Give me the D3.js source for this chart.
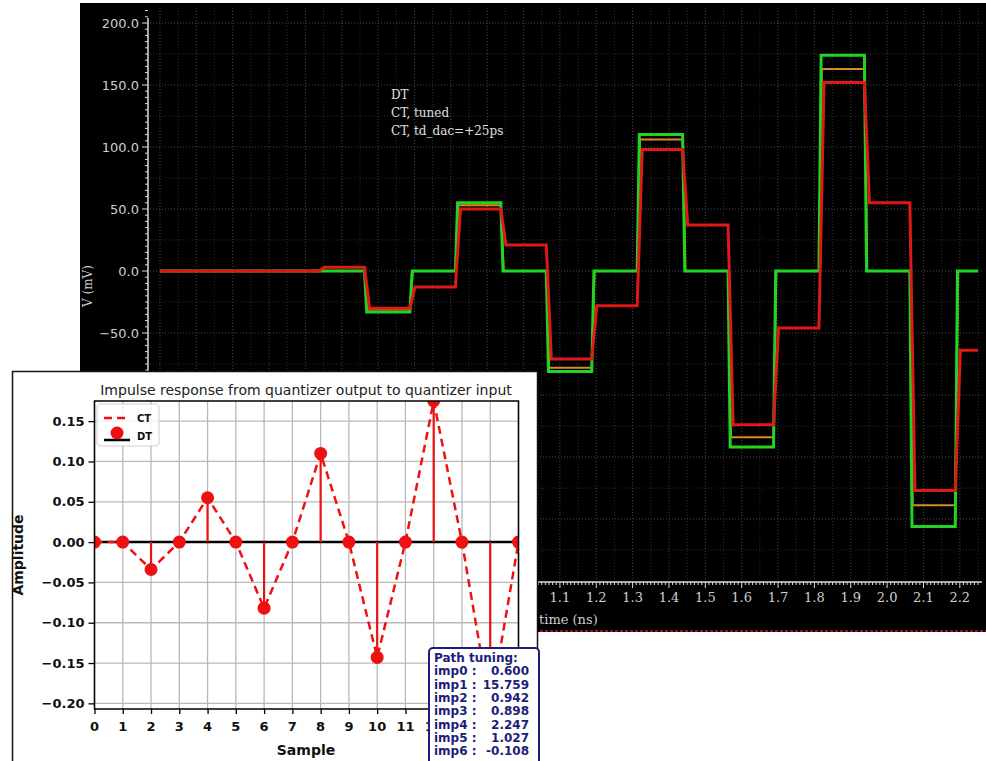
<!DOCTYPE html>
<html>
<head>
<meta charset="utf-8">
<script src="https://cdn.jsdelivr.net/npm/d3@7"></script>
<style>
  body { margin: 0; background: #fff; }
  svg { display: block; }
</style>
</head>
<body>
<div id="chart"></div>
<script>
// ---- waveform (background scope view) ----
const levelStart = [0, 0.4375, 0.5625, 0.6875, 0.8125, 0.9375, 1.0625, 1.1875, 1.3125, 1.4375, 1.5625, 1.6875, 1.8125, 1.9375, 2.0625, 2.1875];
const timeEnd = 2.25;
const dtLevels = [0, 0, -33, 0, 55, 0, -81, 0, 110, 0, -142, 0, 174, 0, -206, 0];
const ctTunedLevels = [0, 0, -31, 0, 53, 0, -78, 0, 106, 0, -134, 0, 163, 0, -189, 0];
const ctDelayLevels = [0, 3, -30, -13, 50, 21, -71, -28, 98, 37, -124, -46, 152, 55, -177, -64];
const legendNames = ["DT", "CT, tuned", "CT, td_dac=+25ps"];
// tick labels left uncovered by the inset
const scopeYLabels = [-50, 0, 50, 100, 150, 200];
const scopeXLabels = [1.1, 1.2, 1.3, 1.4, 1.5, 1.6, 1.7, 1.8, 1.9, 2.0, 2.1, 2.2];

// ---- impulse response (inset) ----
const samples = d3.range(0, 16);
const impulse = [0, 0, -0.034, 0, 0.055, 0, -0.082, 0, 0.110, 0, -0.143, 0, 0.175, 0, -0.205, 0];
const sampleLabels = d3.range(0, 13);
const tuningNames = ["imp0 :", "imp1 :", "imp2 :", "imp3 :", "imp4 :", "imp5 :", "imp6 :"];
const tuningValues = ["0.600", "15.759", "0.942", "0.898", "2.247", "1.027", "-0.108"];

const W = 986, H = 761;
const svg = d3.select("#chart").append("svg")
    .attr("width", W)
    .attr("height", H);

// ================= scope panel =================
svg.append("rect")
    .attr("x", 80).attr("y", 3)
    .attr("width", W - 80).attr("height", 629)
    .attr("fill", "#000");

const xS = d3.scaleLinear().domain([0, 2.25]).range([160, 978]);
const yS = d3.scaleLinear().domain([-200, 200]).range([519, 23]);
const plotTop = 8, plotBottom = 581, plotLeft = 150, plotRight = 982;

// grid - minor then major
const minorX = d3.range(0.05, 2.3, 0.1);
const majorX = d3.range(0, 2.3, 0.1);
const minorY = d3.range(-225, 226, 50);
const majorY = d3.range(-200, 201, 50);

svg.append("g").selectAll("line").data(minorX).join("line")
    .attr("x1", d => xS(d)).attr("x2", d => xS(d))
    .attr("y1", plotTop).attr("y2", plotBottom)
    .attr("stroke", "#2a2a2a").attr("stroke-dasharray", "1,2");
svg.append("g").selectAll("line").data(minorY).join("line")
    .attr("y1", d => yS(d)).attr("y2", d => yS(d))
    .attr("x1", plotLeft).attr("x2", plotRight)
    .attr("stroke", "#2a2a2a").attr("stroke-dasharray", "1,2");
svg.append("g").selectAll("line").data(majorX).join("line")
    .attr("x1", d => xS(d)).attr("x2", d => xS(d))
    .attr("y1", plotTop).attr("y2", plotBottom)
    .attr("stroke", "#4a4a4a").attr("stroke-dasharray", "1,2");
svg.append("g").selectAll("line").data(majorY).join("line")
    .attr("y1", d => yS(d)).attr("y2", d => yS(d))
    .attr("x1", plotLeft).attr("x2", plotRight)
    .attr("stroke", "#4a4a4a").attr("stroke-dasharray", "1,2");

// y ruler
const yAxis = svg.append("g").attr("transform", "translate(148,0)");
yAxis.append("line").attr("x1", 0).attr("x2", 0).attr("y1", plotTop + 10).attr("y2", plotBottom)
    .attr("stroke", "#ddd").attr("stroke-width", 1.5);
yAxis.selectAll(".mt").data(d3.range(-245, 211, 5)).join("line")
    .attr("x1", d => (d % 50 === 0 ? -6 : -3)).attr("x2", 0)
    .attr("y1", d => yS(d)).attr("y2", d => yS(d))
    .attr("stroke", "#ddd").attr("stroke-width", 1);
yAxis.selectAll("text").data(scopeYLabels).join("text")
    .attr("x", -9).attr("y", d => yS(d)).attr("dy", "0.35em")
    .attr("text-anchor", "end")
    .attr("fill", "#cfcfcf")
    .style("font", "13px 'DejaVu Sans'")
    .text(d => d3.format(".1f")(d));

svg.append("text")
    .attr("transform", "translate(92,286) rotate(-90)")
    .attr("text-anchor", "middle")
    .attr("fill", "#cfcfcf")
    .style("font", "12px 'DejaVu Serif'")
    .text("V (mV)");

// x ruler
const xAxis = svg.append("g").attr("transform", `translate(0,${plotBottom + 1})`);
xAxis.append("line").attr("x1", plotLeft).attr("x2", plotRight).attr("y1", 0).attr("y2", 0)
    .attr("stroke", "#ddd").attr("stroke-width", 1.5);
xAxis.selectAll(".mt").data(d3.range(0, 226, 1)).join("line")
    .attr("x1", d => xS(d / 100)).attr("x2", d => xS(d / 100))
    .attr("y1", 0).attr("y2", d => (d % 10 === 0 ? 6 : 3))
    .attr("stroke", "#ddd").attr("stroke-width", 1);
xAxis.selectAll("text").data(scopeXLabels).join("text")
    .attr("x", d => xS(d)).attr("y", 20)
    .attr("text-anchor", "middle")
    .attr("fill", "#cfcfcf")
    .style("font", "13px 'DejaVu Serif'")
    .text(d => d3.format(".1f")(d));
svg.append("text")
    .attr("x", 539).attr("y", 624)
    .attr("fill", "#cfcfcf")
    .style("font", "13px 'DejaVu Serif'")
    .text("time (ns)");

svg.append("line")
    .attr("x1", 80).attr("x2", W).attr("y1", 631).attr("y2", 631)
    .attr("stroke", "#c0202a").attr("stroke-width", 1.5).attr("stroke-dasharray", "3,2");

// step traces with a short edge ramp
function stepPoints(levels, rise) {
    const pts = [[0, levels[0]]];
    for (let i = 1; i < levels.length; i++) {
        pts.push([levelStart[i], levels[i - 1]]);
        pts.push([levelStart[i] + rise, levels[i]]);
    }
    pts.push([timeEnd, levels[levels.length - 1]]);
    return pts;
}
const traceLine = d3.line().x(d => xS(d[0])).y(d => yS(d[1]));

svg.append("path").datum(stepPoints(ctTunedLevels, 0.008))
    .attr("fill", "none").attr("stroke", "#d98a2a").attr("stroke-width", 2)
    .attr("d", traceLine);
svg.append("path").datum(stepPoints(dtLevels, 0.006))
    .attr("fill", "none").attr("stroke", "#22d422").attr("stroke-width", 3)
    .attr("d", traceLine);
svg.append("path").datum(stepPoints(ctDelayLevels, 0.014))
    .attr("fill", "none").attr("stroke", "#e01818").attr("stroke-width", 3)
    .attr("d", traceLine);

svg.append("g").selectAll("text").data(legendNames).join("text")
    .attr("x", 391).attr("y", (d, i) => 95 + i * 18).attr("dy", "0.35em")
    .attr("fill", "#e0e0e0")
    .style("font", "12px 'DejaVu Serif'")
    .text(d => d);

// ================= inset figure =================
svg.append("rect")
    .attr("x", 12.5).attr("y", 371.5)
    .attr("width", 525).attr("height", 400)
    .attr("fill", "#fff").attr("stroke", "#111").attr("stroke-width", 1.5);

const ix = d3.scaleLinear().domain([0, 15]).range([94.5, 518.5]);
const iy = d3.scaleLinear().domain([-0.207, 0.175]).range([709, 401]);
const yTicks = d3.range(-0.20, 0.151, 0.05);

svg.append("defs").append("clipPath").attr("id", "axclip")
    .append("rect").attr("x", ix(0)).attr("y", iy(0.175))
    .attr("width", ix(15) - ix(0)).attr("height", iy(-0.207) - iy(0.175));

// grid
svg.append("g").selectAll("line").data(samples).join("line")
    .attr("x1", d => ix(d)).attr("x2", d => ix(d))
    .attr("y1", iy(0.175)).attr("y2", iy(-0.207))
    .attr("stroke", "#b8b8b8").attr("stroke-width", 1.3);
svg.append("g").selectAll("line").data(yTicks).join("line")
    .attr("y1", d => iy(d)).attr("y2", d => iy(d))
    .attr("x1", ix(0)).attr("x2", ix(15))
    .attr("stroke", "#b8b8b8").attr("stroke-width", 1.3);

const plotG = svg.append("g").attr("clip-path", "url(#axclip)");
const red = "#ee1111";

plotG.append("line")
    .attr("x1", ix(0)).attr("x2", ix(15)).attr("y1", iy(0)).attr("y2", iy(0))
    .attr("stroke", "#000").attr("stroke-width", 2.5);

plotG.append("path").datum(samples)
    .attr("fill", "none").attr("stroke", red).attr("stroke-width", 2.5)
    .attr("stroke-dasharray", "8,5")
    .attr("d", d3.line().x(d => ix(d)).y(d => iy(impulse[d])));

plotG.selectAll(".stem").data(samples).join("line")
    .attr("x1", d => ix(d)).attr("x2", d => ix(d))
    .attr("y1", iy(0)).attr("y2", d => iy(impulse[d]))
    .attr("stroke", red).attr("stroke-width", 2.2);

plotG.selectAll("circle").data(samples).join("circle")
    .attr("cx", d => ix(d)).attr("cy", d => iy(impulse[d]))
    .attr("r", 6.5).attr("fill", red);

// frame
svg.append("rect")
    .attr("x", ix(0)).attr("y", iy(0.175))
    .attr("width", ix(15) - ix(0)).attr("height", iy(-0.207) - iy(0.175))
    .attr("fill", "none").attr("stroke", "#000").attr("stroke-width", 1.5);

// axes
const iyAxis = svg.append("g").attr("transform", `translate(${ix(0)},0)`)
    .call(d3.axisLeft(iy).tickValues(yTicks).tickFormat(d3.format(".2f")).tickSize(6).tickPadding(4));
iyAxis.select(".domain").remove();
iyAxis.selectAll("line").attr("stroke-width", 1.3);
iyAxis.selectAll("text").style("font", "bold 13px 'DejaVu Sans'").attr("fill", "#111")
    .text(d => d3.format(".2f")(d).replace("-", "\u2212"));

const ixAxis = svg.append("g").attr("transform", `translate(0,${iy(-0.207)})`)
    .call(d3.axisBottom(ix).tickValues(samples).tickFormat("").tickSize(5));
ixAxis.select(".domain").remove();
ixAxis.selectAll("line").attr("stroke-width", 1.3);
ixAxis.selectAll(".lbl").data(sampleLabels).join("text")
    .attr("x", d => ix(d)).attr("y", 22)
    .attr("text-anchor", "middle")
    .style("font", "bold 13px 'DejaVu Sans'").attr("fill", "#111")
    .text(d => d);

svg.append("text")
    .attr("x", 306).attr("y", 390).attr("dy", "0.35em")
    .attr("text-anchor", "middle").attr("fill", "#222")
    .style("font", "14px 'DejaVu Sans'")
    .text("Impulse response from quantizer output to quantizer input");
svg.append("text")
    .attr("x", 306).attr("y", 750).attr("dy", "0.35em")
    .attr("text-anchor", "middle").attr("fill", "#111")
    .style("font", "bold 14px 'DejaVu Sans'")
    .text("Sample");
svg.append("text")
    .attr("transform", "translate(23,555) rotate(-90)")
    .attr("text-anchor", "middle").attr("fill", "#111")
    .style("font", "bold 14px 'DejaVu Sans'")
    .text("Amplitude");

// legend
const lg = svg.append("g");
lg.append("rect").attr("x", 97).attr("y", 404).attr("width", 62).attr("height", 42).attr("rx", 3)
    .attr("fill", "#fff").attr("fill-opacity", 0.85).attr("stroke", "#d0d0d0");
lg.append("line").attr("x1", 104).attr("x2", 129).attr("y1", 418).attr("y2", 418)
    .attr("stroke", red).attr("stroke-width", 2.5).attr("stroke-dasharray", "8,5");
lg.append("line").attr("x1", 104).attr("x2", 130).attr("y1", 440).attr("y2", 440)
    .attr("stroke", "#000").attr("stroke-width", 2.5);
lg.append("circle").attr("cx", 117).attr("cy", 433).attr("r", 6.5).attr("fill", red);
lg.append("text").attr("x", 137).attr("y", 418).attr("dy", "0.35em")
    .style("font", "bold 10px 'DejaVu Sans'").attr("fill", "#111").text("CT");
lg.append("text").attr("x", 137).attr("y", 436).attr("dy", "0.35em")
    .style("font", "bold 10px 'DejaVu Sans'").attr("fill", "#111").text("DT");

// path tuning box
const navy = "#1d1d7a";
const tb = svg.append("g");
tb.append("rect").attr("x", 429).attr("y", 648).attr("width", 110).attr("height", 130).attr("rx", 4)
    .attr("fill", "#fff").attr("stroke", navy).attr("stroke-width", 2);
tb.append("text").attr("x", 434).attr("y", 658).attr("dy", "0.35em")
    .style("font", "bold 12px 'DejaVu Sans'").attr("fill", navy).text("Path tuning:");
tb.selectAll(".nm").data(tuningNames).join("text")
    .attr("x", 434).attr("y", (d, i) => 671 + i * 13.35).attr("dy", "0.35em")
    .style("font", "bold 12px 'DejaVu Sans'").attr("fill", navy).text(d => d);
tb.selectAll(".vl").data(tuningValues).join("text")
    .attr("x", 529).attr("y", (d, i) => 671 + i * 13.35).attr("dy", "0.35em")
    .attr("text-anchor", "end")
    .style("font", "bold 12px 'DejaVu Sans'").attr("fill", navy).text(d => d);
</script>
</body>
</html>
